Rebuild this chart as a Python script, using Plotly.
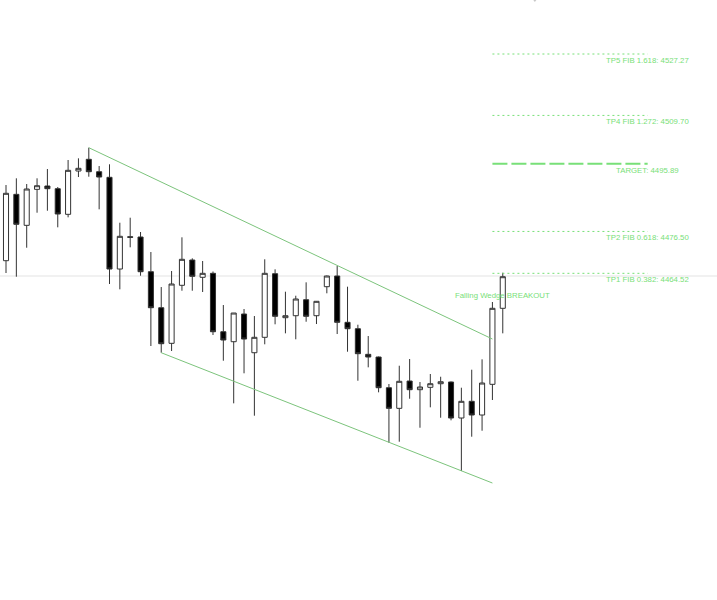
import plotly.graph_objects as go

# ---- data ----
bars = list(range(49))
opens = [4468.13, 4487.12, 4478.25, 4488.55, 4489.50, 4488.73, 4481.40, 4493.79, 4497.14, 4493.59,
         4491.99, 4465.75, 4474.99, 4474.91, 4464.98, 4454.68, 4444.49, 4461.09, 4468.33, 4463.38,
         4464.52, 4447.81, 4444.95, 4452.87, 4441.80, 4446.21, 4464.41, 4451.82, 4452.39, 4456.97,
         4452.39, 4460.69, 4463.75, 4450.50, 4448.67, 4441.34, 4440.57, 4431.79, 4425.89, 4433.70,
         4431.22, 4431.90, 4432.93, 4433.42, 4423.12, 4427.90, 4423.98, 4432.76, 4454.51]
highs = [4489.78, 4491.70, 4490.07, 4491.70, 4494.36, 4489.21, 4496.94, 4497.42, 4500.46, 4495.22,
         4495.71, 4479.00, 4480.43, 4476.34, 4470.61, 4460.60, 4465.18, 4474.82, 4468.81, 4468.04,
         4465.04, 4455.45, 4453.16, 4454.31, 4452.30, 4468.53, 4465.66, 4459.26, 4458.11, 4461.94,
         4456.59, 4463.89, 4466.61, 4460.69, 4449.81, 4446.58, 4440.71, 4432.85, 4438.08, 4440.00,
         4433.42, 4435.71, 4434.93, 4433.56, 4431.79, 4436.94, 4439.91, 4456.31, 4464.69]
lows = [4464.61, 4463.55, 4471.84, 4481.86, 4482.43, 4477.68, 4480.54, 4492.07, 4492.16, 4482.83,
        4461.46, 4459.94, 4471.96, 4463.83, 4443.72, 4441.80, 4442.29, 4459.54, 4459.54, 4459.17,
        4446.87, 4439.51, 4427.32, 4435.91, 4423.78, 4444.21, 4449.93, 4447.35, 4445.64, 4450.67,
        4450.01, 4458.80, 4447.15, 4442.09, 4433.79, 4437.62, 4430.47, 4416.05, 4416.34, 4428.64,
        4420.34, 4426.18, 4423.20, 4422.46, 4407.95, 4417.77, 4419.48, 4428.27, 4447.35]
closes = [4487.41, 4478.54, 4488.64, 4489.58, 4488.73, 4481.49, 4493.99, 4494.56, 4493.59, 4492.07,
          4465.75, 4475.11, 4474.82, 4464.98, 4454.68, 4444.38, 4461.46, 4468.53, 4463.66, 4464.52,
          4447.81, 4445.44, 4453.16, 4445.72, 4446.21, 4464.52, 4452.22, 4452.39, 4457.17, 4452.22,
          4456.51, 4463.75, 4450.50, 4448.67, 4441.52, 4440.57, 4431.79, 4425.89, 4433.62, 4431.22,
          4431.99, 4432.93, 4433.50, 4423.12, 4427.90, 4423.98, 4433.13, 4454.51, 4463.55]

upper_x = [8, 47]
upper_y = [4500.46, 4445.72]
lower_x = [15, 47]
lower_y = [4441.80, 4404.52]

level_names = ["TP1 FIB 0.382", "TP2 FIB 0.618", "TARGET", "TP4 FIB 1.272", "TP5 FIB 1.618"]
level_values = [4464.52, 4476.50, 4495.89, 4509.70, 4527.27]
level_start = 47
level_end = 62

last_price = 4463.75
breakout_label = "Falling Wedge BREAKOUT"
breakout_y = 4458.31

marker_x = [51.1]
marker_y = [4543.3]

GREEN = "#78e078"
WEDGE = "#7cc47c"

fig = go.Figure()

fig.add_shape(type="line", xref="paper", x0=0, x1=1, yref="y", y0=last_price, y1=last_price,
              line=dict(color="#e3e3e3", width=1), layer="below")

fig.add_trace(go.Candlestick(
    x=bars, open=opens, high=highs, low=lows, close=closes,
    increasing=dict(fillcolor="white", line=dict(color="#333333", width=1)),
    decreasing=dict(fillcolor="black", line=dict(color="#333333", width=1)),
    whiskerwidth=0, showlegend=False, hoverinfo="skip"))

fig.add_trace(go.Scatter(x=upper_x, y=upper_y, mode="lines",
                         line=dict(color=WEDGE, width=1), showlegend=False, hoverinfo="skip"))
fig.add_trace(go.Scatter(x=lower_x, y=lower_y, mode="lines",
                         line=dict(color=WEDGE, width=1), showlegend=False, hoverinfo="skip"))

for name, val in zip(level_names, level_values):
    is_target = name == "TARGET"
    fig.add_trace(go.Scatter(
        x=[level_start, level_end], y=[val, val], mode="lines",
        line=dict(color=GREEN, width=2 if is_target else 1,
                  dash="15px,4px" if is_target else "2px,3px"),
        showlegend=False, hoverinfo="skip"))
    fig.add_annotation(x=level_end, y=val, text=f"{name}: {val:.2f}", showarrow=False,
                       xanchor="center", yanchor="top", yshift=0,
                       font=dict(family="Liberation Sans, Arial", size=7.8, color=GREEN))

fig.add_annotation(x=bars[-1], y=breakout_y, text=breakout_label, showarrow=False,
                   xanchor="center", yanchor="middle",
                   font=dict(family="Liberation Sans, Arial", size=7.8, color=GREEN))

fig.add_trace(go.Scatter(x=marker_x, y=marker_y, mode="markers",
                         marker=dict(symbol="triangle-down", size=8, color="#c8c8c8"),
                         showlegend=False, hoverinfo="skip"))

fig.update_layout(
    width=717, height=600,
    margin=dict(l=0, r=0, t=0, b=0),
    paper_bgcolor="white", plot_bgcolor="white",
    xaxis=dict(visible=False, range=[-0.58, 68.70], rangeslider=dict(visible=False)),
    yaxis=dict(visible=False, range=[4371.05, 4542.72]),
    boxgap=0.3,
)

fig.write_html("out.html", config={"displayModeBar": False},
               post_script="document.body.style.margin='0';")
